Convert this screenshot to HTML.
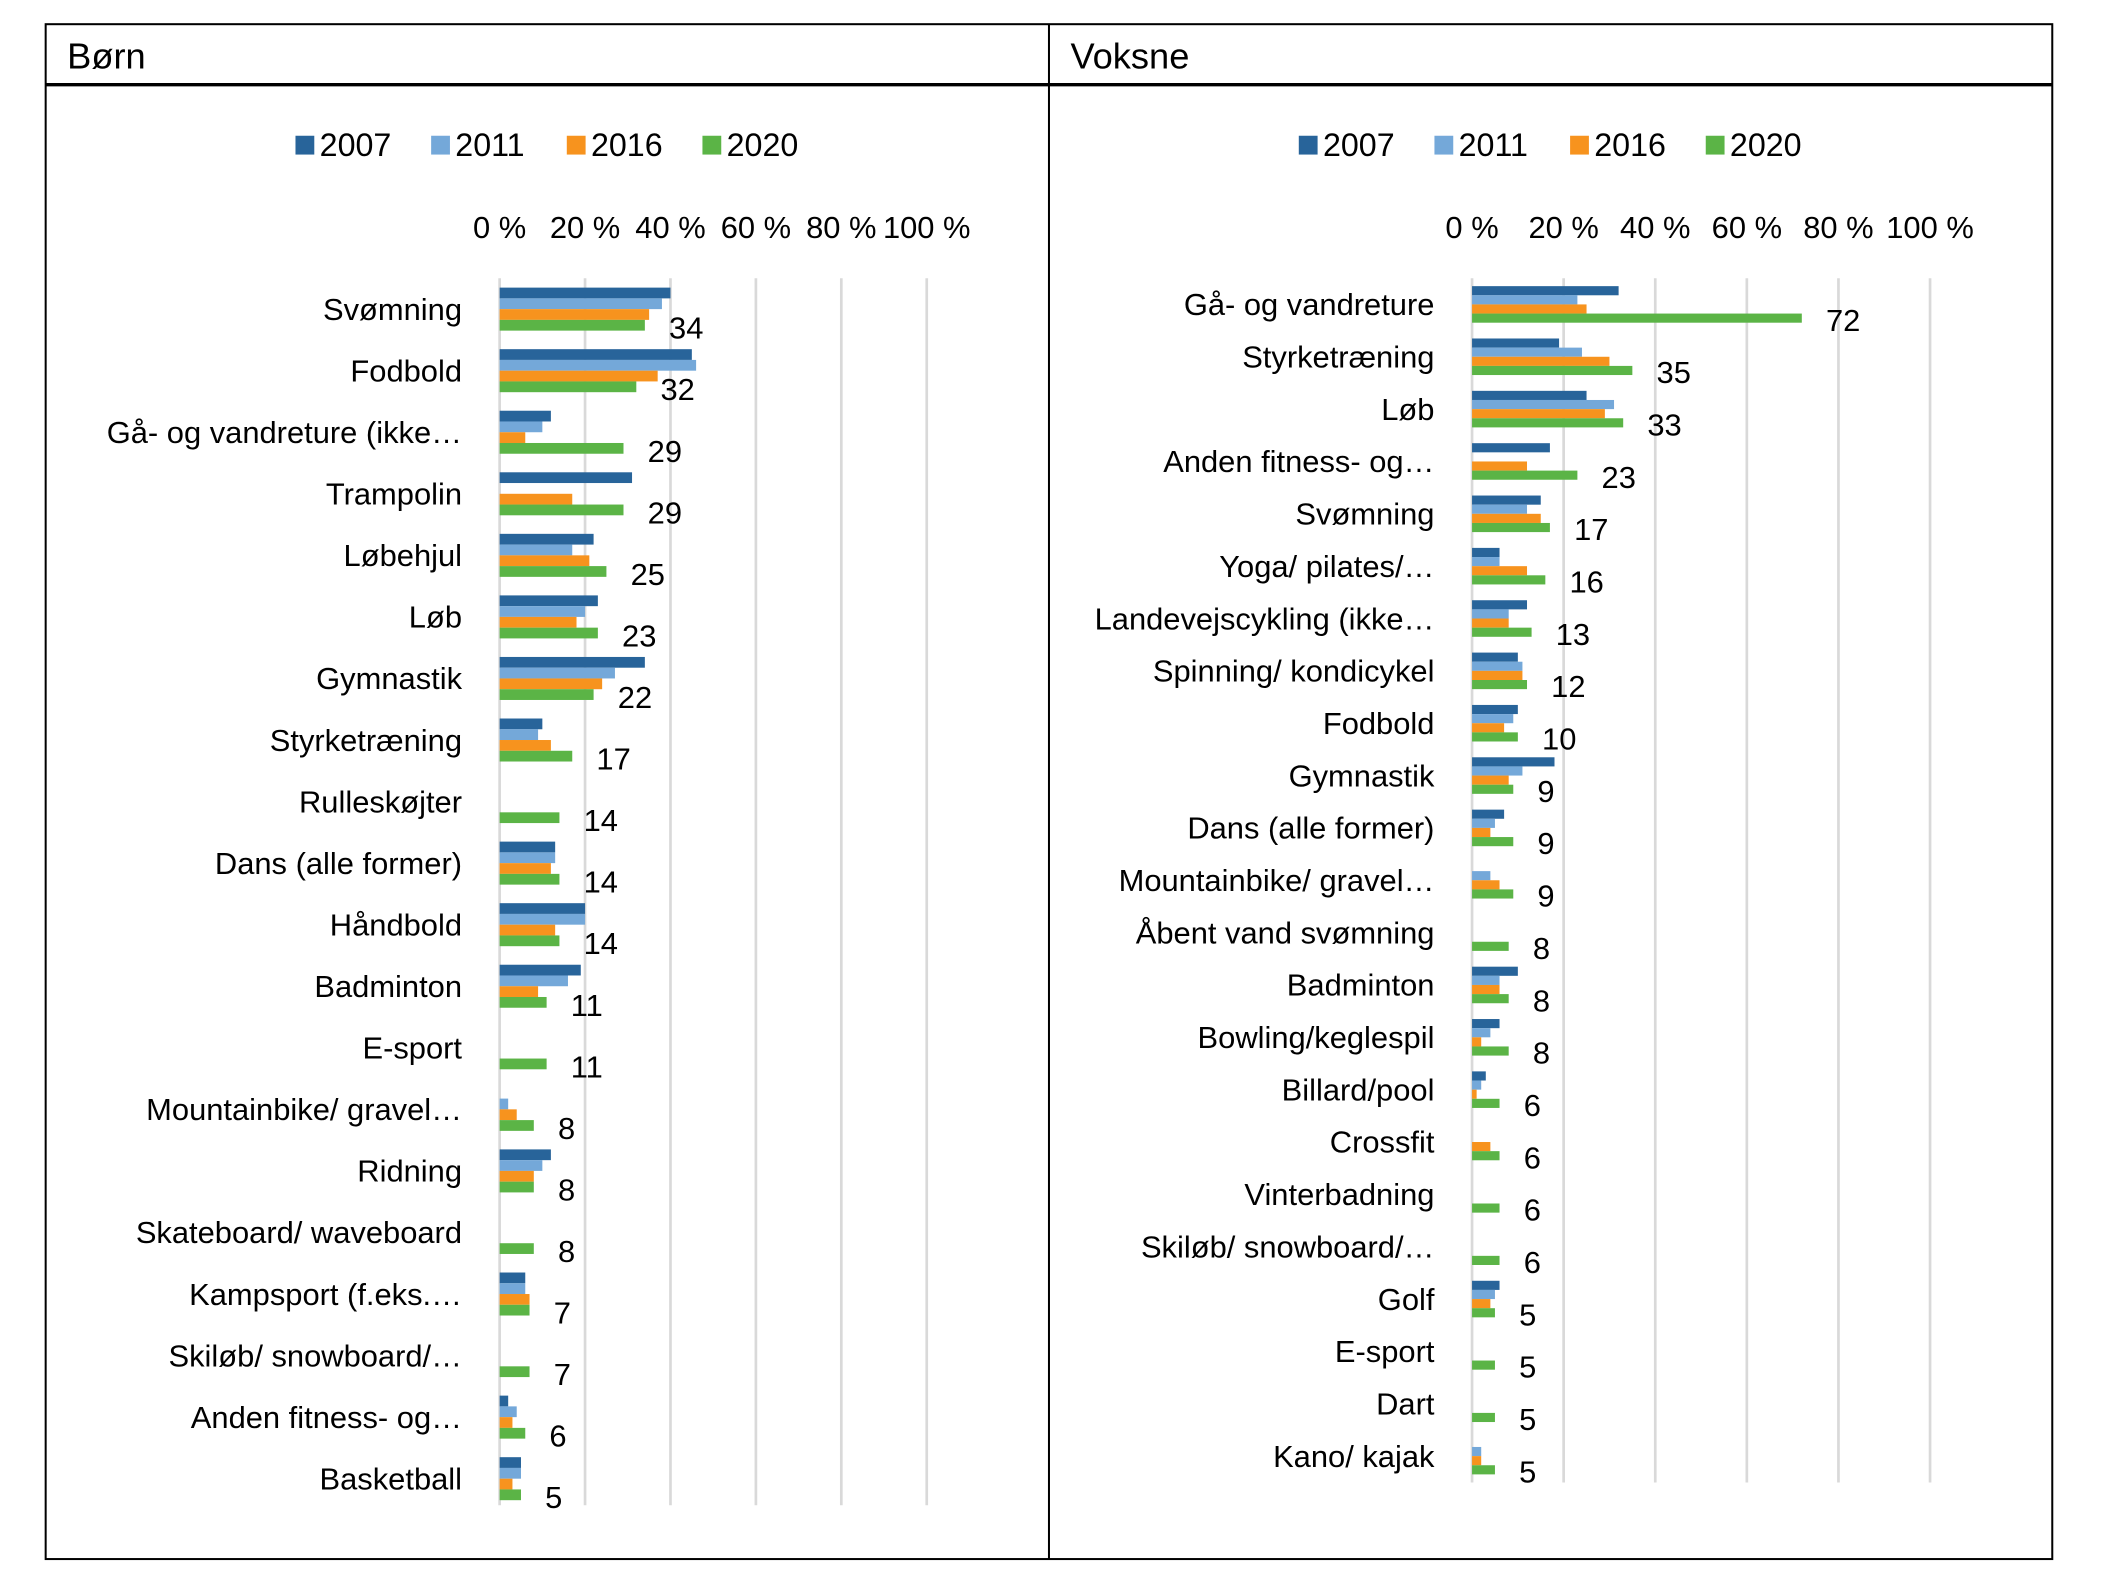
<!DOCTYPE html>
<html><head><meta charset="utf-8"><style>
html,body{margin:0;padding:0;background:#fff;}
svg{display:block;font-family:"Liberation Sans",sans-serif;}
</style></head><body>
<svg id="chart" width="2106" height="1594" viewBox="0 0 1568 1186" preserveAspectRatio="none" xmlns="http://www.w3.org/2000/svg">
<rect x="34" y="18" width="1494" height="1142" fill="none" stroke="#000" stroke-width="1.5"/>
<line x1="34" y1="63" x2="1528" y2="63" stroke="#000" stroke-width="2.5"/>
<line x1="781" y1="18" x2="781" y2="1160" stroke="#000" stroke-width="1.5"/>
<text x="50" y="51" font-size="27">Børn</text>
<text x="797" y="51" font-size="27">Voksne</text>
<g id="left"></g><g id="right"></g>
</svg>
<script>
const years = ["2007","2011","2016","2020"];
const colors = ["#28649a","#74a8d9","#f7931e","#5bb446"];
const tickLabels = ["0 %","20 %","40 %","60 %","80 %","100 %"];
const tickValues = [0,20,40,60,80,100];

const bornCats = ["Svømning","Fodbold","Gå- og vandreture (ikke…","Trampolin","Løbehjul","Løb","Gymnastik","Styrketræning","Rulleskøjter","Dans (alle former)","Håndbold","Badminton","E-sport","Mountainbike/ gravel…","Ridning","Skateboard/ waveboard","Kampsport (f.eks.…","Skiløb/ snowboard/…","Anden fitness- og…","Basketball"];
const born2007 = [40,45,12,31,22,23,34,10,null,13,20,19,null,null,12,null,6,null,2,5];
const born2011 = [38,46,10,null,17,20,27,9,null,13,20,16,null,2,10,null,6,null,4,5];
const born2016 = [35,37,6,17,21,18,24,12,null,12,13,9,null,4,8,null,7,null,3,3];
const born2020 = [34,32,29,29,25,23,22,17,14,14,14,11,11,8,8,8,7,7,6,5];

const vokCats = ["Gå- og vandreture","Styrketræning","Løb","Anden fitness- og…","Svømning","Yoga/ pilates/…","Landevejscykling (ikke…","Spinning/ kondicykel","Fodbold","Gymnastik","Dans (alle former)","Mountainbike/ gravel…","Åbent vand svømning","Badminton","Bowling/keglespil","Billard/pool","Crossfit","Vinterbadning","Skiløb/ snowboard/…","Golf","E-sport","Dart","Kano/ kajak"];
const vok2007 = [32,19,25,17,15,6,12,10,10,18,7,null,null,10,6,3,null,null,null,6,null,null,null];
const vok2011 = [23,24,31,null,12,6,8,11,9,11,5,4,null,6,4,2,null,null,null,5,null,null,2];
const vok2016 = [25,30,29,12,15,12,8,11,7,8,4,6,null,6,2,1,4,null,null,4,null,null,2];
const vok2020 = [72,35,33,23,17,16,13,12,10,9,9,9,8,8,8,6,6,6,6,5,5,5,5];

const NS="http://www.w3.org/2000/svg";
function mk(tag,attrs,parent){const e=document.createElementNS(NS,tag);for(const k in attrs)e.setAttribute(k,attrs[k]);parent.appendChild(e);return e;}

function draw(g,cfg){
  const xs=v=>cfg.x0+v/100*(cfg.x1-cfg.x0);
  const ys=i=>cfg.firstY+i*cfg.step;
  years.forEach((y,i)=>{
    const lx=cfg.legX+i*cfg.legStep;
    const sw=mk('rect',{x:lx,y:101,width:14,height:14,fill:colors[i]},g);
    
    
    const t=mk('text',{x:lx+18,y:116,'font-size':24},g);t.textContent=y;
    
    
  });
  tickValues.forEach((v,i)=>{
    const gl=mk('line',{x1:xs(v),x2:xs(v),y1:207,y2:cfg.gridBottom,stroke:'#d9d9d9','stroke-width':2},g);
    
    
    const t=mk('text',{x:xs(v),y:177,'font-size':23,'text-anchor':'middle'},g);t.textContent=tickLabels[i];
    
    
  });
  const series=cfg.series;
  cfg.cats.forEach((c,i)=>{
    const cy=ys(i);
    const t=mk('text',{x:cfg.labelX,y:cy+8,'font-size':23,'text-anchor':'end'},g);t.textContent=c;
    
    
    const top=cy-2*cfg.bh;
    series.forEach((s,k)=>{
      const v=s[i];
      if(v===null||v===undefined)return;
      const r=mk('rect',{x:cfg.x0,y:top+k*cfg.bh,width:Math.max(0,xs(v)-cfg.x0),height:cfg.bh,fill:colors[k]},g);
      
      
    });
    const v20=series[3][i];
    const vt=mk('text',{x:xs(v20)+cfg.valOff,y:top+4*cfg.bh+cfg.valDy,'font-size':23},g);vt.textContent=v20;
    
    
  });
}
draw(document.getElementById('left'),{cats:bornCats,series:[born2007,born2011,born2016,born2020],x0:372,x1:690,firstY:230,step:45.8,bh:8,labelX:344,gridBottom:1120,legX:220,legStep:101,valOff:18,valDy:6});
draw(document.getElementById('right'),{cats:vokCats,series:[vok2007,vok2011,vok2016,vok2020],x0:1096,x1:1437,firstY:226.5,step:38.95,bh:6.8,labelX:1068,gridBottom:1103,legX:967,legStep:101,valOff:18,valDy:6});
</script>
</body></html>
